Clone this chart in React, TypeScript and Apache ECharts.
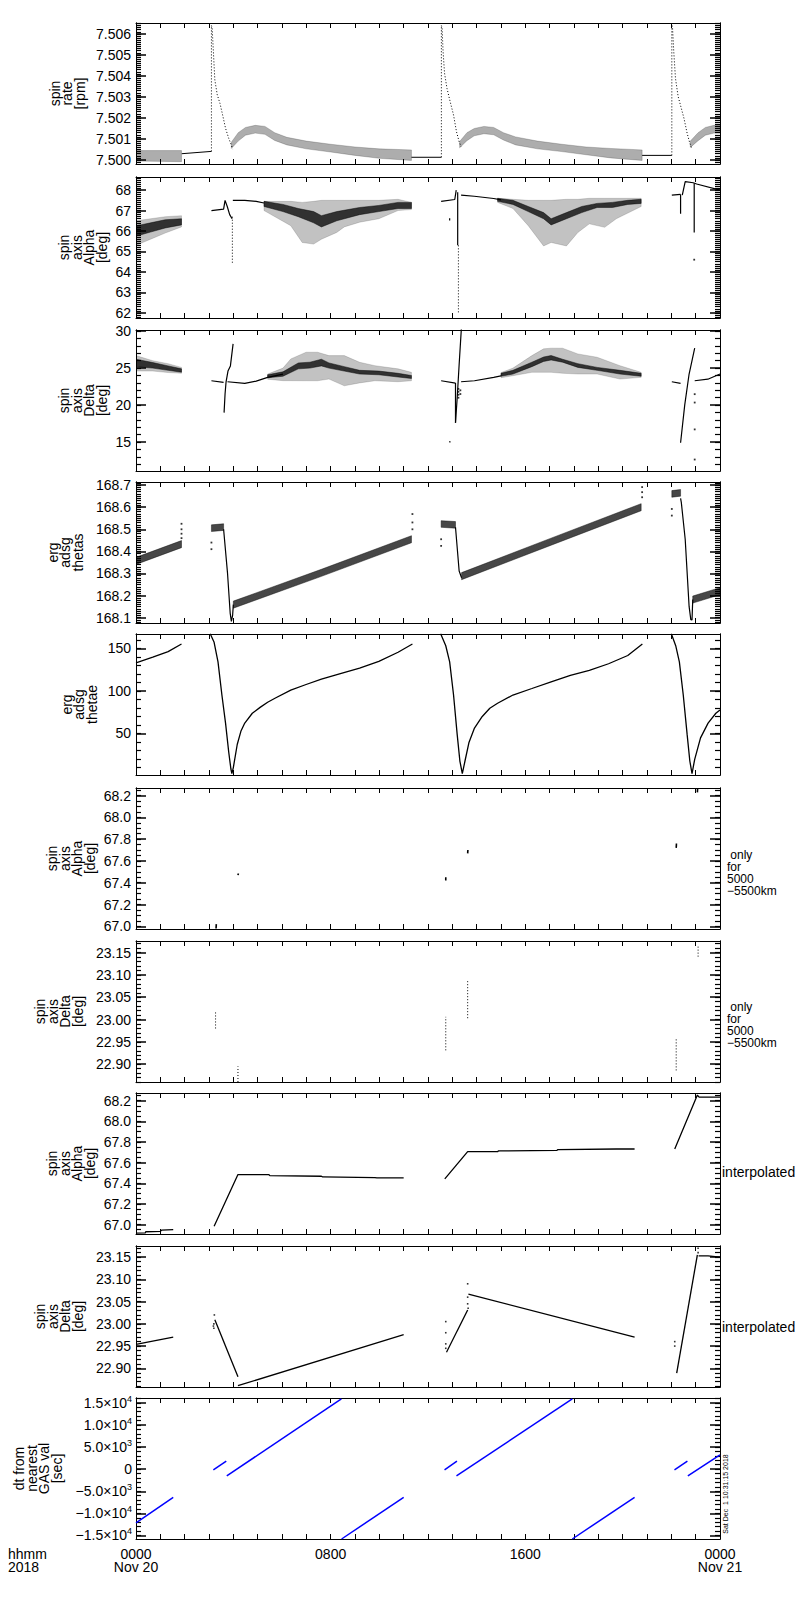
import React, { useEffect, useRef } from "react";
import * as echarts from "echarts";

const FONT = "Liberation Sans";
const INK = "#000000";
const BLUE = "#0000ff";
const W = 800;
const H = 1600;

// ---------- layout ----------
const panelTops = [23, 177, 330, 482, 634, 788, 941, 1093, 1246, 1398];
const panelHeight = 141;
const plotLeft = 136;
const plotWidth = 584;

// ---------- x axis (hours of 2018-11-20) ----------
const xLabelHours = [0, 8, 16, 24];
const xLabelTexts = ["0000\nNov 20", "0800", "1600", "0000\nNov 21"];

// ---------- y axes ----------
const yTitles = [
  "spin\nrate\n[rpm]",
  "spin\naxis\nAlpha\n[deg]",
  "spin\naxis\nDelta\n[deg]",
  "erg\nadsg\nthetas",
  "erg\nadsg\nthetae",
  "spin\naxis\nAlpha\n[deg]",
  "spin\naxis\nDelta\n[deg]",
  "spin\naxis\nAlpha\n[deg]",
  "spin\naxis\nDelta\n[deg]",
  "dt from\nnearest\nGAS val\n[sec]",
];
const yTitleX = [67, 83, 83, 65, 79, 71, 59, 71, 59, 38];
const yMins = [7.49981, 61.75, 11.1, 168.076, 0.94, 66.975, 22.86, 66.908, 22.858, -15800];
const yMaxs = [7.50652, 68.64, 30.15, 168.714, 166.8, 68.27, 23.176, 68.275, 23.175, 16100];

const rateTicks = [7.5, 7.501, 7.502, 7.503, 7.504, 7.505, 7.506];
const alphaWideTicks = [62, 63, 64, 65, 66, 67, 68];
const deltaWideTicks = [15, 20, 25, 30];
const thetasTicks = [168.1, 168.2, 168.3, 168.4, 168.5, 168.6, 168.7];
const thetaeTicks = [50, 100, 150];
const alphaTicks = [67.0, 67.2, 67.4, 67.6, 67.8, 68.0, 68.2];
const deltaTicks = [22.9, 22.95, 23.0, 23.05, 23.1, 23.15];
const dtTicks = [-15000, -10000, -5000, 0, 5000, 10000, 15000];
const dtTickLabels = [
  "\u22121.5\u00d710{s|4}",
  "\u22121.0\u00d710{s|4}",
  "\u22125.0\u00d710{s|3}",
  "0",
  "5.0\u00d710{s|3}",
  "1.0\u00d710{s|4}",
  "1.5\u00d710{s|4}",
];
const yMajorTicks = [rateTicks, alphaWideTicks, deltaWideTicks, thetasTicks, thetaeTicks, alphaTicks, deltaTicks, alphaTicks, deltaTicks, dtTicks];
const yDecimals = [3, 0, 0, 1, 0, 1, 2, 1, 2, 0];
const yMinorSteps = [0.0001, 0.1, 1, 0.01, 10, 0.05, 0.01, 0.05, 0.01, 1000];

// ---------- panel 1: spin rate [rpm] ----------
const rateBand0 = [[0, 7.49995, 7.50045], [1.87, 7.49992, 7.50045]];
const rateLine0 = [[1.88, 7.5003], [3.1, 7.50041]];
const rateRise1 = [[3.1, 7.50041], [3.1, 7.5064]];
const rateDrop1 = [[3.1, 7.5064], [3.13, 7.50627], [3.18, 7.50516], [3.24, 7.50381], [3.34, 7.5031], [3.45, 7.5027], [3.56, 7.50214], [3.68, 7.50151], [3.81, 7.50103], [3.92, 7.50071], [3.97, 7.50052]];
const rateBand1 = [[3.92, 7.50055, 7.50085], [4.2, 7.5009, 7.5013], [4.5, 7.50118, 7.50155], [4.9, 7.50128, 7.50165], [5.3, 7.50122, 7.5016], [5.7, 7.50093, 7.5013], [6.2, 7.50072, 7.50108], [7.0, 7.50053, 7.5009], [8.0, 7.50038, 7.50075], [9.0, 7.50022, 7.50062], [10.0, 7.50008, 7.50053], [11.32, 7.49998, 7.50048]];
const rateLine1 = [[11.32, 7.50013], [12.55, 7.50013]];
const rateRise2 = [[12.55, 7.50013], [12.55, 7.5064]];
const rateDrop2 = [[12.55, 7.5064], [12.58, 7.50627], [12.62, 7.50516], [12.68, 7.50413], [12.78, 7.50341], [12.91, 7.50278], [13.05, 7.50214], [13.17, 7.50135], [13.28, 7.50087], [13.36, 7.50063]];
const rateBand2 = [[13.3, 7.50058, 7.50088], [13.6, 7.50092, 7.5013], [13.9, 7.50115, 7.5015], [14.3, 7.50125, 7.5016], [14.7, 7.5012, 7.50155], [15.1, 7.50095, 7.5013], [15.6, 7.50072, 7.5011], [16.5, 7.50053, 7.5009], [17.5, 7.5004, 7.50075], [18.5, 7.50025, 7.50062], [19.5, 7.5001, 7.50055], [20.8, 7.49998, 7.50048]];
const rateLine2 = [[20.8, 7.50022], [22.02, 7.50022]];
const rateRise3 = [[22.02, 7.50022], [22.02, 7.5064]];
const rateDrop3 = [[22.02, 7.5064], [22.05, 7.50627], [22.1, 7.50516], [22.17, 7.50389], [22.28, 7.50302], [22.41, 7.50246], [22.52, 7.50198], [22.65, 7.50127], [22.76, 7.5008], [22.84, 7.50056]];
const rateBand3 = [[22.78, 7.5006, 7.5009], [23.1, 7.50092, 7.5013], [23.4, 7.50118, 7.50155], [23.75, 7.50128, 7.50165], [24.0, 7.50128, 7.50165]];

// ---------- panel 2: spin axis alpha [deg] ----------
const alphaCloud0 = [[0, 65.3, 66.5], [0.6, 65.6, 66.6], [1.2, 65.9, 66.7], [1.87, 66.2, 66.75]];
const alphaCore0 = [[0, 65.75, 66.25], [0.6, 65.95, 66.4], [1.2, 66.15, 66.55], [1.87, 66.3, 66.6]];
const alphaPre1 = [[3.1, 67.0], [3.6, 67.07], [3.66, 67.5], [3.75, 67.2], [3.85, 66.8], [3.95, 66.6]];
const alphaDip1 = [[3.96, 66.7], [3.96, 64.45]];
const alphaMain1 = [[3.98, 67.5], [4.47, 67.5], [4.94, 67.45], [5.26, 67.37]];
const alphaCore1 = [[5.26, 67.2, 67.45], [6.04, 66.95, 67.3], [6.67, 66.7, 67.1], [7.3, 66.4, 66.95], [7.62, 66.2, 66.75], [8.25, 66.5, 66.95], [9.19, 66.8, 67.15], [9.98, 66.95, 67.25], [10.77, 67.1, 67.4], [11.32, 67.1, 67.4]];
const alphaCloud1 = [[5.26, 67.0, 67.45], [6.36, 66.26, 67.45], [6.83, 65.44, 67.4], [7.3, 65.36, 67.45], [7.62, 65.6, 67.5], [8.25, 65.93, 67.5], [8.56, 66.2, 67.5], [9.19, 66.43, 67.5], [9.98, 66.6, 67.5], [10.77, 67.0, 67.55], [11.32, 67.05, 67.4]];
const alphaPre2 = [[12.54, 67.45], [13.1, 67.54], [13.16, 68.0]];
const alphaDip2a = [[13.22, 67.9], [13.22, 65.3]];
const alphaDip2b = [[13.25, 65.3], [13.25, 61.97]];
const alphaMark2 = [[12.89, 66.62], [12.89, 66.52]];
const alphaMain2 = [[13.36, 67.75], [13.9, 67.7], [14.7, 67.59], [15.0, 67.52]];
const alphaCore2 = [[14.86, 67.45, 67.6], [15.49, 67.3, 67.5], [16.12, 66.95, 67.2], [16.75, 66.6, 66.9], [17.06, 66.3, 66.6], [17.69, 66.6, 66.9], [18.32, 66.9, 67.2], [18.95, 67.15, 67.35], [19.58, 67.15, 67.4], [20.21, 67.3, 67.5], [20.76, 67.35, 67.55]];
const alphaCloud2 = [[14.86, 67.4, 67.6], [15.49, 67.1, 67.55], [16.12, 66.26, 67.5], [16.75, 65.27, 67.5], [17.06, 65.44, 67.5], [17.69, 65.27, 67.55], [18.16, 65.93, 67.55], [18.63, 66.35, 67.6], [19.26, 66.18, 67.6], [19.74, 66.6, 67.6], [20.76, 67.2, 67.6]];
const alphaPre3 = [[22.02, 67.75], [22.38, 67.79]];
const alphaDip3a = [[22.38, 67.79], [22.38, 66.84]];
const alphaJump3 = [[22.45, 67.75], [22.57, 68.41], [22.9, 68.36], [23.04, 68.3], [24.0, 68.0]];
const alphaDip3b = [[22.94, 68.33], [22.94, 65.93]];
const alphaDots3 = [[22.94, 64.6]];

// ---------- panel 3: spin axis delta [deg] ----------
const deltaCloud0 = [[0, 24.6, 26.7], [0.69, 24.6, 26.0], [1.32, 24.4, 25.6], [1.87, 24.3, 25.1]];
const deltaCore0 = [[0, 25.2, 26.2], [0.69, 25.0, 25.75], [1.32, 24.7, 25.3], [1.87, 24.45, 24.9]];
const deltaPre1 = [[3.1, 23.29], [3.6, 23.07]];
const deltaSpike1 = [[3.62, 18.99], [3.66, 21.5], [3.7, 23.1], [3.78, 24.6], [3.88, 25.3], [3.99, 28.28]];
const deltaMain1 = [[3.76, 23.16], [4.47, 22.93], [4.94, 23.25], [5.41, 23.75], [6.04, 24.2]];
const deltaCore1 = [[5.41, 23.7, 24.1], [6.04, 23.9, 24.5], [6.67, 24.9, 25.7], [7.15, 25.0, 25.8], [7.62, 25.3, 26.2], [7.93, 25.0, 25.7], [8.56, 24.6, 25.2], [9.19, 24.2, 24.7], [9.98, 24.1, 24.6], [10.77, 23.8, 24.3], [11.32, 23.6, 24.0]];
const deltaCloud1 = [[5.41, 23.5, 24.2], [6.04, 23.3, 25.0], [6.36, 23.3, 26.24], [6.99, 23.29, 27.15], [7.46, 23.29, 27.15], [7.93, 23.52, 26.69], [8.56, 22.61, 26.69], [9.19, 23.0, 25.79], [9.82, 23.29, 25.33], [10.77, 23.16, 24.9], [11.32, 23.29, 24.43]];
const deltaPre2 = [[12.54, 23.29], [13.13, 22.98]];
const deltaSpike2a = [[13.13, 22.98], [13.13, 17.63]];
const deltaSpike2b = [[13.13, 17.63], [13.2, 21.0], [13.28, 25.5], [13.37, 30.3]];
const deltaDots2 = [[13.25, 22.2], [13.25, 21.8], [13.25, 21.4], [13.25, 21.0], [13.33, 22.0], [13.33, 21.5]];
const deltaMark2 = [[12.89, 15.14], [12.91, 14.95]];
const deltaMain2 = [[13.36, 23.16], [13.91, 23.29], [14.7, 23.75], [15.0, 23.95]];
const deltaCore2 = [[15.0, 23.9, 24.3], [15.49, 24.2, 24.7], [16.27, 25.2, 25.8], [16.75, 25.9, 26.5], [17.06, 26.1, 26.7], [17.53, 25.8, 26.2], [18.16, 25.1, 25.6], [18.95, 24.7, 25.1], [19.89, 24.2, 24.7], [20.76, 23.9, 24.3]];
const deltaCloud2 = [[15.0, 23.7, 24.4], [15.49, 23.97, 25.0], [16.27, 24.43, 26.69], [16.75, 24.43, 27.6], [17.06, 24.43, 27.7], [17.53, 24.3, 27.69], [18.16, 24.2, 26.92], [18.95, 24.2, 26.47], [19.89, 23.52, 25.33], [20.76, 23.75, 24.43]];
const deltaPre3 = [[22.02, 23.16], [22.38, 22.93]];
const deltaSpike3 = [[22.38, 14.91], [22.55, 20.0], [22.73, 24.2], [22.85, 26.0], [22.96, 27.69]];
const deltaDots3 = [[22.96, 21.48], [22.96, 20.35], [22.96, 16.72], [22.96, 12.65]];
const deltaMain3 = [[22.96, 23.29], [23.5, 23.5], [24.0, 24.2]];

// ---------- panel 4: erg adsg thetas ----------
const thetasBand0 = [[0, 168.341, 168.373], [1.87, 168.417, 168.449]];
const thetasDots0 = [[1.87, 168.525], [1.87, 168.5], [1.87, 168.48], [1.87, 168.46]];
const thetasPlat1 = [[3.1, 168.49, 168.52], [3.6, 168.495, 168.525]];
const thetasDots1 = [[3.1, 168.44], [3.1, 168.41], [11.36, 168.569], [11.36, 168.531], [11.36, 168.5]];
const thetasDrop1 = [[3.6, 168.5], [3.76, 168.303], [3.87, 168.121], [3.92, 168.083], [3.97, 168.11], [4.0, 168.159]];
const thetasBand1 = [[4.0, 168.143, 168.175], [7.62, 168.287, 168.319], [11.32, 168.439, 168.471]];
const thetasPlat2 = [[12.54, 168.509, 168.539], [13.13, 168.505, 168.535]];
const thetasDots2 = [[12.54, 168.455], [12.54, 168.425], [20.8, 168.691], [20.8, 168.668], [20.8, 168.645]];
const thetasDrop2 = [[13.13, 168.509], [13.28, 168.311], [13.38, 168.281]];
const thetasBand2 = [[13.38, 168.272, 168.304], [17.06, 168.428, 168.46], [20.76, 168.584, 168.616]];
const thetasPlat3 = [[22.02, 168.645, 168.675], [22.38, 168.65, 168.68]];
const thetasDots3 = [[22.02, 168.592], [22.02, 168.562]];
const thetasDrop3 = [[22.38, 168.64], [22.41, 168.622], [22.57, 168.455], [22.73, 168.151], [22.8, 168.091], [22.85, 168.09], [22.88, 168.182]];
const thetasBand3 = [[22.88, 168.166, 168.198], [24.0, 168.204, 168.236]];

// ---------- panel 5: erg adsg thetae ----------
const thetaeSeg0 = [[0, 132.9], [0.69, 139.5], [1.32, 146.1], [1.87, 155]];
const thetaeSeg1 = [[3.05, 167], [3.21, 157], [3.37, 134], [3.53, 95], [3.68, 62], [3.81, 28], [3.9, 8], [3.94, 2.5], [4.0, 9.7], [4.16, 36.8], [4.31, 52.3], [4.47, 62.0], [4.78, 73.6], [5.1, 80.5], [5.41, 86.5], [5.73, 91.5], [6.36, 100.8], [6.99, 107.4], [7.62, 113.6], [8.4, 120.2], [9.19, 126.7], [9.98, 134.5], [10.77, 145.3], [11.36, 155]];
const thetaeSeg2 = [[12.52, 167], [12.73, 153], [12.89, 134], [13.05, 95], [13.2, 48.4], [13.31, 17.4], [13.41, 2.5], [13.52, 17.4], [13.68, 38.8], [13.91, 56.2], [14.23, 69.8], [14.54, 79.5], [14.86, 85.3], [15.49, 95.0], [16.27, 102.7], [17.06, 110.5], [17.85, 118.2], [18.63, 124.0], [19.42, 131.8], [20.21, 141.5], [20.81, 155]];
const thetaeSeg3 = [[22.0, 167], [22.18, 153], [22.33, 134], [22.49, 95], [22.65, 48.4], [22.76, 17.4], [22.85, 2.5], [22.96, 19.4], [23.2, 44.6], [23.51, 62.0], [23.83, 73.6], [24.0, 77.5]];

// ---------- panel 6: alpha only for 5000-5500 km ----------
const alphaOnlySegs = [
  [[3.29, 66.98], [3.3, 67.02]],
  [[4.19, 67.47], [4.21, 67.485]],
  [[12.73, 67.42], [12.73, 67.45]],
  [[13.63, 67.67], [13.64, 67.7]],
  [[22.2, 67.72], [22.21, 67.76]],
  [[23.07, 68.23], [23.08, 68.265]],
];

// ---------- panel 7: delta only for 5000-5500 km ----------
const deltaOnlySegs = [
  [[3.27, 22.98], [3.27, 23.02]],
  [[4.19, 22.86], [4.19, 22.895]],
  [[12.73, 22.931], [12.73, 23.006]],
  [[13.63, 23.003], [13.63, 23.09]],
  [[22.2, 22.886], [22.2, 22.958]],
  [[23.1, 23.141], [23.1, 23.165]],
];

// ---------- panel 8: alpha interpolated ----------
const alphaInterp0 = [[0, 66.916], [0.38, 66.918], [0.4, 66.93], [1.0, 66.934], [1.05, 66.945], [1.53, 66.95]];
const alphaInterp1 = [[3.21, 66.984], [4.19, 67.484], [5.45, 67.484], [5.5, 67.474], [7.62, 67.468], [7.67, 67.461], [9.82, 67.455], [9.9, 67.452], [11.0, 67.452]];
const alphaInterp2 = [[12.69, 67.442], [13.63, 67.706], [14.86, 67.706], [14.89, 67.713], [17.3, 67.719], [17.34, 67.726], [19.74, 67.732], [20.49, 67.732]];
const alphaInterp3 = [[22.14, 67.732], [23.07, 68.255], [23.14, 68.235], [24.0, 68.235]];

// ---------- panel 9: delta interpolated ----------
const deltaInterp0 = [[0, 22.954], [1.53, 22.97]];
const deltaInterp1a = [[3.24, 23.009], [4.19, 22.881]];
const deltaInterp1b = [[4.19, 22.861], [11.0, 22.976]];
const deltaInterp2a = [[12.76, 22.936], [13.63, 23.031]];
const deltaInterp2b = [[13.66, 23.067], [20.49, 22.97]];
const deltaInterp3a = [[22.22, 22.889], [23.07, 23.155]];
const deltaInterp3b = [[23.12, 23.153], [23.51, 23.153], [24.0, 23.15]];
const deltaInterpDots = [[3.18, 22.995], [3.2, 22.99], [3.22, 23.02], [3.2, 23.0], [12.73, 23.005], [12.73, 22.98], [12.73, 22.955], [12.73, 22.945], [13.63, 23.09], [13.63, 23.06], [13.63, 23.045], [13.65, 23.035], [22.14, 22.96], [22.14, 22.95], [23.1, 23.17], [23.1, 23.16]];

// ---------- panel 10: dt from nearest GAS val [sec] ----------
const dtSegs = [
  [[0, -12140], [1.53, -6370]],
  [[3.18, -160], [3.71, 1820]],
  [[3.73, -1520], [8.44, 15900]],
  [[8.45, -15800], [11.0, -6370]],
  [[12.68, -160], [13.19, 1820]],
  [[13.17, -1520], [17.93, 15900]],
  [[17.93, -15800], [20.49, -6370]],
  [[22.13, -160], [22.66, 1820]],
  [[22.68, -1520], [24.0, 3250]],
];

// ---------- styles ----------
const RATE_FILL = "rgba(0,0,0,0.32)";
const CLOUD_FILL = "rgba(0,0,0,0.24)";
const CORE_FILL = "rgba(0,0,0,0.75)";
const SAW_FILL = "rgba(0,0,0,0.72)";
const MAJOR_LEN = 10;
const MINOR_LEN = 5;

function stepValues(min: number, max: number, step: number) {
  const out: number[] = [];
  const s = Math.ceil(min / step - 1e-9);
  const e = Math.floor(max / step + 1e-9);
  for (let k = s; k <= e; k++) out.push(+(k * step).toFixed(10));
  return out;
}

const txt = (x: number, y: number, text: string, extra: any = {}, rotation = 0) => ({
  type: "text", x, y, rotation, silent: true,
  style: { text, fontFamily: FONT, fontSize: 14, fill: INK, ...extra },
});

function buildTexts() {
  const graphics: any[] = [];
  for (let p = 0; p < 10; p++) {
    graphics.push(txt(yTitleX[p], panelTops[p] + panelHeight / 2, yTitles[p], { fontSize: 14, lineHeight: 12.5, align: "center", verticalAlign: "middle" }, Math.PI / 2));
  }
  const onlyText = "\u00a0only\nfor\n5000\n\u22125500km";
  graphics.push(txt(727, panelTops[5] + panelHeight / 2 + 14, onlyText, { fontSize: 12, lineHeight: 12, align: "left", verticalAlign: "middle" }));
  graphics.push(txt(727, panelTops[6] + panelHeight / 2 + 13, onlyText, { fontSize: 12, lineHeight: 12, align: "left", verticalAlign: "middle" }));
  graphics.push(txt(722, panelTops[7] + panelHeight / 2 + 8, "interpolated", { align: "left", verticalAlign: "middle" }));
  graphics.push(txt(722, panelTops[8] + panelHeight / 2 + 10, "interpolated", { align: "left", verticalAlign: "middle" }));
  graphics.push(txt(8, 1547, "hhmm\n2018", { lineHeight: 13, align: "left", verticalAlign: "top" }));
  graphics.push(txt(725, 1494, "Sat Dec  1 10:31:15 2018", { fontSize: 7, align: "center", verticalAlign: "middle" }, Math.PI / 2));
  return graphics;
}

function buildOption() {
  const grids: any[] = [];
  const xAxes: any[] = [];
  const yAxes: any[] = [];
  const series: any[] = [];

  for (let p = 0; p < 10; p++) {
    grids.push({ left: plotLeft, top: panelTops[p], width: plotWidth, height: panelHeight, containLabel: false, outerBoundsMode: "none" });
    const lineStyle = { color: INK, width: 1 };
    const xBase = {
      type: "value", gridIndex: p, min: 0, max: 24, interval: 1,
      axisLine: { show: true, onZero: false, lineStyle },
      axisTick: { show: true, inside: true, length: 5, lineStyle },
      splitLine: { show: false },
    };
    xAxes.push({
      ...xBase, position: "bottom",
      axisLabel: p === 9
        ? { show: true, customValues: xLabelHours, formatter: (v: number) => xLabelTexts[xLabelHours.indexOf(v)] ?? "", fontFamily: FONT, fontSize: 14, lineHeight: 13, color: INK, margin: 8 }
        : { show: false },
    });
    xAxes.push({ ...xBase, position: "top", axisLabel: { show: false } });

    const majors = yMajorTicks[p];
    const minors = stepValues(yMins[p], yMaxs[p], yMinorSteps[p]);
    const yBase = { type: "value", gridIndex: p, min: yMins[p], max: yMaxs[p], splitLine: { show: false } };
    const dec = yDecimals[p];
    // left axis: labels + major ticks
    yAxes.push({
      ...yBase, position: "left",
      axisLine: { show: true, onZero: false, lineStyle },
      axisTick: { show: true, inside: true, length: MAJOR_LEN, customValues: majors, lineStyle: { color: INK, width: 1.5 } },
      axisLabel: p === 9
        ? {
            show: true, customValues: majors, margin: 4,
            formatter: (v: number) => dtTickLabels[dtTicks.indexOf(v)] ?? "",
            fontFamily: FONT, fontSize: 14, lineHeight: 17, color: INK,
            rich: { s: { fontFamily: FONT, fontSize: 9, lineHeight: 9, verticalAlign: "top", color: INK } },
          }
        : { show: true, customValues: majors, margin: 5, formatter: (v: number) => v.toFixed(dec), fontFamily: FONT, fontSize: 14, color: INK },
    });
    // right axis: major ticks
    yAxes.push({
      ...yBase, position: "right",
      axisLine: { show: true, onZero: false, lineStyle },
      axisTick: { show: true, inside: true, length: MAJOR_LEN, customValues: majors, lineStyle: { color: INK, width: 1.5 } },
      axisLabel: { show: false },
    });
    // left & right minor-tick axes (same scale, only short ticks)
    yAxes.push({
      ...yBase, position: "left",
      axisLine: { show: true, onZero: false, lineStyle },
      axisTick: { show: true, inside: true, length: MINOR_LEN, customValues: minors, lineStyle: { color: INK, width: 1.2 } },
      axisLabel: { show: false },
    });
    yAxes.push({
      ...yBase, position: "right",
      axisLine: { show: true, onZero: false, lineStyle },
      axisTick: { show: true, inside: true, length: MINOR_LEN, customValues: minors, lineStyle: { color: INK, width: 1.2 } },
      axisLabel: { show: false },
    });
  }

  const common = (p: number) => ({ xAxisIndex: 2 * p, yAxisIndex: 4 * p, silent: true, animation: false });
  const solid = (p: number, data: number[][], width = 1, color = INK) =>
    series.push({ ...common(p), type: "line", data, showSymbol: false, symbol: "none", clip: true, lineStyle: { color, width } });
  const dotted = (p: number, data: number[][]) =>
    series.push({ ...common(p), type: "line", data, showSymbol: false, symbol: "none", clip: true, lineStyle: { color: INK, width: 1, type: [1, 2] } });
  const dots = (p: number, data: number[][], size = 1.8) =>
    series.push({ ...common(p), type: "scatter", data, symbol: "rect", symbolSize: size, clip: true, itemStyle: { color: INK } });
  const band = (p: number, rows: number[][], fill: string) =>
    series.push({
      ...common(p), type: "custom", data: rows, encode: { x: 0, y: [1, 2] }, clip: true,
      renderItem: (params: any, api: any) => {
        if (params.dataIndex !== 0) return null;
        const top = rows.map((r) => api.coord([r[0], r[2]]));
        const bot = rows.slice().reverse().map((r) => api.coord([r[0], r[1]]));
        return { type: "polygon", shape: { points: top.concat(bot) }, style: { fill, stroke: fill, lineWidth: 0.6 } };
      },
    });

  // bind the tick-only axes to an (empty) series each so they are laid out with the grid
  for (let p = 0; p < 10; p++) {
    for (const k of [1, 2, 3]) {
      series.push({ type: "line", xAxisIndex: 2 * p, yAxisIndex: 4 * p + k, data: [], silent: true, showSymbol: false });
    }
  }

  // panel 1
  [rateBand0, rateBand1, rateBand2, rateBand3].forEach((d) => band(0, d, RATE_FILL));
  [rateLine0, rateLine1, rateLine2].forEach((d) => solid(0, d));
  [rateRise1, rateDrop1, rateRise2, rateDrop2, rateRise3, rateDrop3].forEach((d) => dotted(0, d));

  // panel 2
  [alphaCloud0, alphaCloud1, alphaCloud2].forEach((d) => band(1, d, CLOUD_FILL));
  [alphaCore0, alphaCore1, alphaCore2].forEach((d) => band(1, d, CORE_FILL));
  [alphaPre1, alphaMain1, alphaPre2, alphaDip2a, alphaMark2, alphaMain2, alphaPre3, alphaDip3a, alphaJump3, alphaDip3b].forEach((d) => solid(1, d, 1.2));
  [alphaDip1, alphaDip2b].forEach((d) => dotted(1, d));
  dots(1, alphaDots3);

  // panel 3
  [deltaCloud0, deltaCloud1, deltaCloud2].forEach((d) => band(2, d, CLOUD_FILL));
  [deltaCore0, deltaCore1, deltaCore2].forEach((d) => band(2, d, CORE_FILL));
  [deltaPre1, deltaSpike1, deltaMain1, deltaPre2, deltaSpike2a, deltaSpike2b, deltaMark2, deltaMain2, deltaPre3, deltaSpike3, deltaMain3].forEach((d) => solid(2, d, 1.2));
  dots(2, deltaDots2);
  dots(2, deltaDots3);

  // panel 4
  [thetasBand0, thetasBand1, thetasBand2, thetasBand3, thetasPlat1, thetasPlat2, thetasPlat3].forEach((d) => band(3, d, SAW_FILL));
  [thetasDrop1, thetasDrop2, thetasDrop3].forEach((d) => solid(3, d, 1.2));
  [thetasDots0, thetasDots1, thetasDots2, thetasDots3].forEach((d) => dots(3, d));

  // panel 5
  [thetaeSeg0, thetaeSeg1, thetaeSeg2, thetaeSeg3].forEach((d) => solid(4, d, 1.3));

  // panel 6, 7
  alphaOnlySegs.forEach((d) => solid(5, d, 1.6));
  deltaOnlySegs.forEach((d) => dotted(6, d));

  // panel 8
  [alphaInterp0, alphaInterp1, alphaInterp2, alphaInterp3].forEach((d) => solid(7, d, 1.3));

  // panel 9
  [deltaInterp0, deltaInterp1a, deltaInterp1b, deltaInterp2a, deltaInterp2b, deltaInterp3a, deltaInterp3b].forEach((d) => solid(8, d, 1.3));
  dots(8, deltaInterpDots, 1.6);

  // panel 10
  dtSegs.forEach((d) => solid(9, d, 1.5, BLUE));

  return {
    animation: false,
    backgroundColor: "#ffffff",
    textStyle: { fontFamily: FONT },
    grid: grids,
    xAxis: xAxes,
    yAxis: yAxes,
    series,
    graphic: buildTexts(),
  };
}

export default function App() {
  const ref = useRef<HTMLDivElement>(null);
  useEffect(() => {
    document.body.style.margin = "0";
    if (!ref.current) return;
    const chart = echarts.init(ref.current, null, { renderer: "svg", width: W, height: H });
    chart.setOption(buildOption() as any);
    return () => chart.dispose();
  }, []);
  return <div ref={ref} style={{ width: W, height: H, background: "#fff" }} />;
}
